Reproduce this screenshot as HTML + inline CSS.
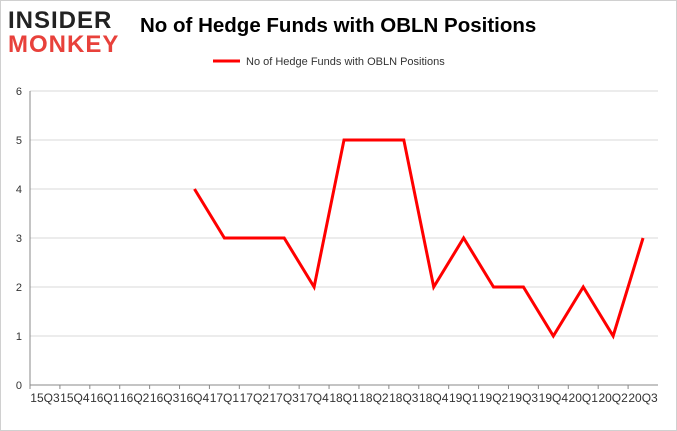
<!DOCTYPE html>
<html><head><meta charset="utf-8"><style>
body{margin:0;background:#fff;font-family:"Liberation Sans",sans-serif}
#wrap{position:relative;width:677px;height:431px;overflow:hidden}
</style></head><body>
<div id="wrap">
<svg id="c" width="677" height="431" xmlns="http://www.w3.org/2000/svg">
<rect x="0.5" y="0.5" width="676" height="430" fill="#fff" stroke="#d0d0d0"/>
<g>
<text x="8" y="28" font-size="24" font-weight="bold" fill="#222" letter-spacing="1">INSIDER</text>
<text x="8" y="52" font-size="24" font-weight="bold" fill="#e8413b" letter-spacing="1">MONKEY</text>
</g>
<text x="140" y="32" font-size="20.5" font-weight="bold" fill="#000">No of Hedge Funds with OBLN Positions</text>
<line x1="213" y1="61" x2="240" y2="61" stroke="#ff0000" stroke-width="3"/>
<text x="246" y="65" font-size="11" fill="#333">No of Hedge Funds with OBLN Positions</text>
<g id="grid"></g><g id="axes"></g><g id="series"></g>
</svg>
</div>
<script>
const categories=["15Q3","15Q4","16Q1","16Q2","16Q3","16Q4","17Q1","17Q2","17Q3","17Q4","18Q1","18Q2","18Q3","18Q4","19Q1","19Q2","19Q3","19Q4","20Q1","20Q2","20Q3"];
const values=[null,null,null,null,null,4,3,3,3,2,5,5,5,2,3,2,2,1,2,1,3];
const yTicks=[0,1,2,3,4,5,6];
const NS="http://www.w3.org/2000/svg";
const L=30,R=658,T=91,B=385,yMax=6;
const bw=(R-L)/categories.length;
function xs(i){return L+bw*(i+0.5);}
function ys(v){return B-(v/yMax)*(B-T);}
function mk(t,a,p){const e=document.createElementNS(NS,t);for(const k in a)e.setAttribute(k,a[k]);p.appendChild(e);return e;}
const grid=document.getElementById('grid'),axes=document.getElementById('axes'),series=document.getElementById('series');
yTicks.forEach(v=>{
  const g=mk('line',{x1:L,x2:R,y1:ys(v),y2:ys(v),stroke:v===0?'#888':'#d9d9d9','stroke-width':1},grid);
  
  
  const t=mk('text',{x:L-8,y:ys(v)+4,'font-size':11,fill:'#333','text-anchor':'end'},axes);
  t.textContent=v;
  
  
});
const ax=mk('line',{x1:L,x2:L,y1:T,y2:B,stroke:'#888'},axes);


categories.forEach((c,i)=>{
  const tk=mk('line',{x1:L+bw*i,x2:L+bw*i,y1:B,y2:B+4,stroke:'#888'},axes);
  
  
  const t=mk('text',{x:xs(i),y:B+17,'font-size':12,fill:'#333','text-anchor':'middle'},axes);
  t.textContent=c;
  
  
});
let d='';
values.forEach((v,i)=>{if(v===null)return;d+=(d?'L':'M')+xs(i)+','+ys(v);});
const p=mk('path',{d:d,fill:'none',stroke:'#ff0000','stroke-width':3,'stroke-linejoin':'miter'},series);


</script>
</body></html>
